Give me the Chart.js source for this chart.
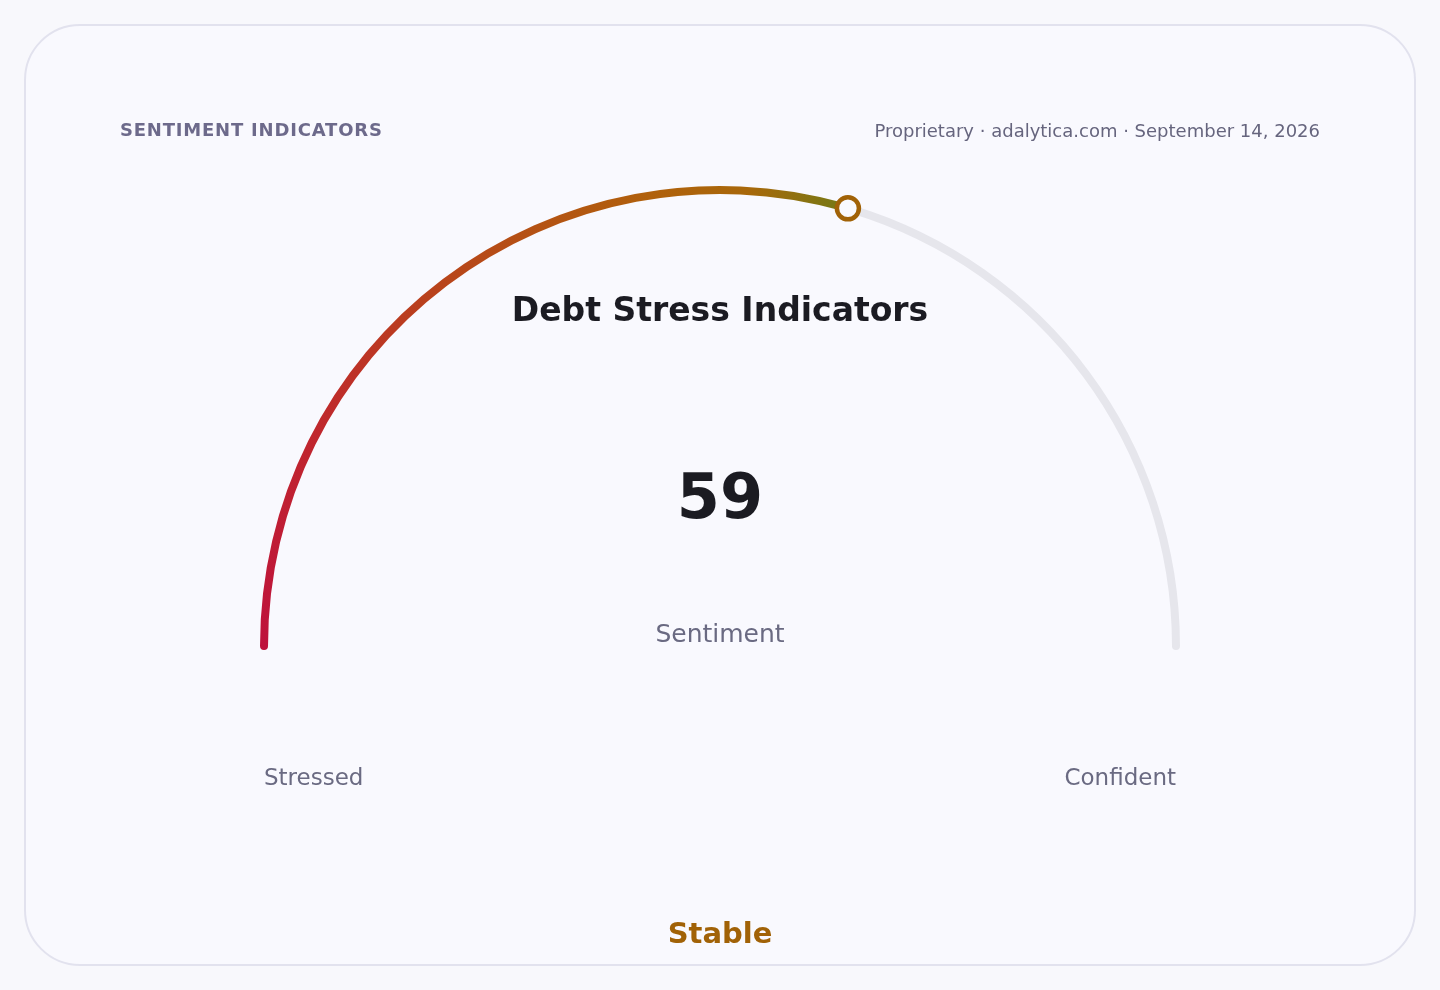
<!DOCTYPE html>
<html>
<head>
<meta charset="utf-8">
<script src="https://cdn.jsdelivr.net/npm/chart.js@4.4.1/dist/chart.umd.min.js"></script>
<style>
  html, body { margin: 0; padding: 0; background: #f8f8fc; }
  body { width: 1440px; height: 990px; position: relative; overflow: hidden; font-family: "DejaVu Sans", sans-serif; }
  .card {
    position: absolute; left: 24px; top: 24px; width: 1388px; height: 938px;
    border: 2px solid #e2e2ee; border-radius: 56px; background: #f9f9fe;
  }
  #gauge { position: absolute; left: 0; top: 0; }
  .t { position: absolute; line-height: 1; white-space: nowrap; transform: translateY(-50%); }
  .center { transform: translate(-50%, -50%); }
</style>
</head>
<body>
<div class="card"></div>
<canvas id="gauge" width="1440" height="990"></canvas>

<div class="t" style="left:120px; top:130px; font-size:18px; font-weight:bold; letter-spacing:0.8px; color:#6d6a8b;">SENTIMENT INDICATORS</div>
<div class="t" style="right:120px; top:131px; font-size:18px; color:#66657e;">Proprietary · adalytica.com · September 14, 2026</div>
<div class="t center" style="left:720px; top:309px; font-size:33px; font-weight:bold; color:#1b1b22;">Debt Stress Indicators</div>
<div class="t center" style="left:720px; top:497px; font-size:62px; font-weight:bold; color:#1b1b22;">59</div>
<div class="t center" style="left:720px; top:633px; font-size:25px; color:#6a6a82;">Sentiment</div>
<div class="t" style="left:264px; top:777px; font-size:23px; color:#6a6a82;">Stressed</div>
<div class="t" style="right:264px; top:777px; font-size:23px; color:#6a6a82;">Confident</div>
<div class="t center" style="left:720px; top:933px; font-size:29px; font-weight:bold; color:#a16207;">Stable</div>

<script>
// Gauge value and scale
const gaugeValue = 59;
const gaugeMax = 100;
const segments = [gaugeValue, gaugeMax - gaugeValue];

// Gradient stops along the scale (0..100)
const gradientStops = [0, 15, 30, 45, 52, 59];
const gradientColors = ['#be123c', '#c0262e', '#b8461a', '#b0600c', '#a8680a', '#737a16'];

const trackColor = '#e6e6ec';
const markerColor = '#a16207';

// Build a conic gradient centered on the gauge
function arcGradient(context) {
  const chart = context.chart;
  const area = chart.chartArea;
  if (!area) return gradientColors[0];
  const el = chart.getDatasetMeta(0).data[0];
  let cx = (area.left + area.right) / 2;
  let cy = area.bottom - 4;
  if (el && Number.isFinite(el.x) && Number.isFinite(el.y)) {
    cx = el.x;
    cy = el.y;
  }
  const g = chart.ctx.createConicGradient(Math.PI, cx, cy);
  gradientStops.forEach((s, i) => {
    g.addColorStop(s / (gaugeMax * 2), gradientColors[i]);
  });
  g.addColorStop(0.5, gradientColors[gradientColors.length - 1]);
  g.addColorStop(1, gradientColors[0]);
  return g;
}

// Plugin to draw the ring marker at the end of the value arc
const markerPlugin = {
  id: 'marker',
  afterDatasetsDraw(chart) {
    const arc = chart.getDatasetMeta(0).data[0];
    if (!arc) return;
    const { x, y, endAngle, innerRadius, outerRadius } = arc.getProps(['x', 'y', 'endAngle', 'innerRadius', 'outerRadius'], true);
    const r = (innerRadius + outerRadius) / 2;
    const px = x + Math.cos(endAngle) * r;
    const py = y + Math.sin(endAngle) * r;
    const ctx = chart.ctx;
    ctx.save();
    ctx.beginPath();
    ctx.arc(px, py, 11, 0, Math.PI * 2);
    ctx.fillStyle = '#f9f9fe';
    ctx.fill();
    ctx.lineWidth = 4.5;
    ctx.strokeStyle = markerColor;
    ctx.stroke();
    ctx.restore();
  }
};

const ctx = document.getElementById('gauge').getContext('2d');
new Chart(ctx, {
  type: 'doughnut',
  data: {
    labels: ['Sentiment', 'Remaining'],
    datasets: [{
      data: segments,
      backgroundColor: (c) => c.dataIndex === 0 ? arcGradient(c) : trackColor,
      borderWidth: 0,
      borderRadius: 4
    }]
  },
  options: {
    responsive: false,
    animation: false,
    devicePixelRatio: 1,
    // half circle, widened a touch so the rounded ends hang below the centre like line caps
    rotation: -90.5,
    circumference: 181,
    cutout: '98.26%',
    layout: { padding: { left: 260, right: 260, top: 186, bottom: 340 } },
    plugins: {
      legend: { display: false },
      tooltip: { enabled: false }
    }
  },
  plugins: [markerPlugin]
});
</script>
</body>
</html>
